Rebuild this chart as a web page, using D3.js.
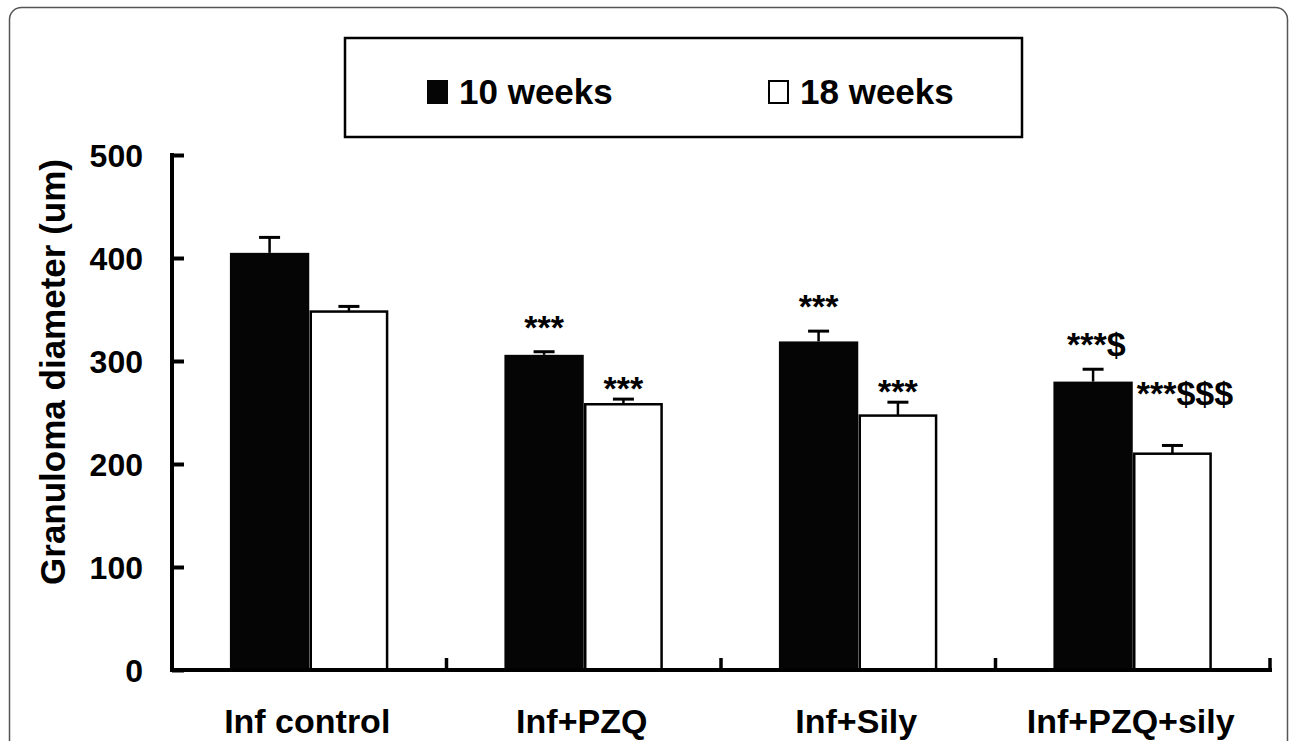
<!DOCTYPE html>
<html><head><meta charset="utf-8">
<script src="https://cdn.jsdelivr.net/npm/d3@7"></script>
<style>html,body{margin:0;padding:0;background:#fff;}svg{display:block;font-family:"Liberation Sans",Arial,sans-serif;font-weight:bold;}</style>
</head><body>
<svg id="c" width="1290" height="741"></svg>
<script>
const categories = ["Inf control", "Inf+PZQ", "Inf+Sily", "Inf+PZQ+sily"];
const seriesNames = ["10 weeks", "18 weeks"];
const weeks10 = [405, 306, 319, 280];
const weeks10Err = [15, 3, 10, 12];
const weeks18 = [348, 258, 247, 210];
const weeks18Err = [5, 5, 13, 8];
const annot10 = ["", "***", "***", "***$"];
const annot18 = ["", "***", "***", "***$$$"];
const yTicks = [0, 100, 200, 300, 400, 500];

const svg = d3.select("#c");
// outer frame
svg.append("rect").attr("x", 9.5).attr("y", 7.5).attr("width", 1278).attr("height", 760)
  .attr("rx", 12).attr("fill", "none").attr("stroke", "#555").attr("stroke-width", 1.5);

const x0 = 172, x1 = 1270, yTop = 155, yBot = 670;
const x = d3.scaleBand().domain(categories).range([x0, x1]).paddingInner(0).paddingOuter(0);
const y = d3.scaleLinear().domain([0, 500]).range([yBot, yTop]);
const sub = d3.scaleBand().domain(seriesNames).range([0, x.bandwidth()]).paddingOuter(0.73).paddingInner(0);

const series = [
  {name: seriesNames[0], vals: weeks10, errs: weeks10Err, ann: annot10, fill: "#050505"},
  {name: seriesNames[1], vals: weeks18, errs: weeks18Err, ann: annot18, fill: "#fff"}
];

// bars
series.forEach((s, si) => {
  const g = svg.append("g");
  categories.forEach((c, i) => {
    const bx = x(c) + sub(s.name) + (si === 0 ? 0 : 1.5);
    const bw = sub.bandwidth() - (si === 0 ? 0 : 3);
    const cx = x(c) + sub(s.name) + sub.bandwidth() / 2;
    g.append("line").attr("x1", cx).attr("x2", cx).attr("y1", y(s.vals[i])).attr("y2", y(s.vals[i] + s.errs[i]))
      .attr("stroke", "#000").attr("stroke-width", 2.5);
    g.append("line").attr("x1", cx - 10.5).attr("x2", cx + 10.5).attr("y1", y(s.vals[i] + s.errs[i])).attr("y2", y(s.vals[i] + s.errs[i]))
      .attr("stroke", "#000").attr("stroke-width", 3);
    g.append("rect").attr("x", bx).attr("y", y(s.vals[i])).attr("width", bw).attr("height", yBot - y(s.vals[i]))
      .attr("fill", s.fill).attr("stroke", si === 0 ? "none" : "#000").attr("stroke-width", 2.5);
  });
});

// annotations
const annSize = 34;
categories.forEach((c, i) => {
  const cx0 = x(c) + sub(seriesNames[0]) + sub.bandwidth() / 2;
  const cx1 = x(c) + sub(seriesNames[1]) + sub.bandwidth() / 2;
  if (annot10[i]) {
    const top = y(weeks10[i] + weeks10Err[i]);
    const t = svg.append("text").attr("font-size", annSize).attr("y", top - 13).text(annot10[i]);
    if (annot10[i].includes("$")) t.attr("x", cx0 - 26).attr("text-anchor", "start");
    else t.attr("x", cx0).attr("text-anchor", "middle");
  }
  if (annot18[i]) {
    const top = y(weeks18[i] + weeks18Err[i]);
    if (annot18[i].includes("$")) {
      svg.append("text").attr("font-size", annSize).attr("x", x(c) + sub(seriesNames[1]) + 4).attr("y", y(weeks10[i]) + 23)
        .attr("text-anchor", "start").text(annot18[i]);
    } else {
      svg.append("text").attr("font-size", annSize).attr("x", cx1).attr("y", top + 1).attr("text-anchor", "middle").text(annot18[i]);
    }
  }
});

// y axis
const yAxis = d3.axisRight(y).tickValues(yTicks).tickSize(12).tickFormat("");
const ya = svg.append("g").attr("transform", `translate(${x0},0)`).call(yAxis);
ya.select(".domain").remove();
ya.selectAll(".tick line").attr("stroke", "#000").attr("stroke-width", 4);
svg.append("line").attr("x1", x0).attr("x2", x0).attr("y1", yTop - 2).attr("y2", yBot + 2).attr("stroke", "#000").attr("stroke-width", 4);
svg.append("g").selectAll("text").data(yTicks).join("text")
  .attr("x", 143).attr("y", d => y(d) + 11.5).attr("text-anchor", "end").attr("font-size", 32).text(d => d);

// x axis
svg.append("line").attr("x1", x0 - 2).attr("x2", x1 + 2).attr("y1", yBot).attr("y2", yBot).attr("stroke", "#000").attr("stroke-width", 4);
const bounds = categories.map(c => x(c) + x.bandwidth());
svg.append("g").selectAll("line").data(bounds).join("line")
  .attr("x1", d => d).attr("x2", d => d).attr("y1", yBot).attr("y2", yBot - 12).attr("stroke", "#000").attr("stroke-width", 3.5);
svg.append("g").selectAll("text").data(categories).join("text")
  .attr("x", d => x(d) + x.bandwidth() / 2 - 2).attr("y", 733).attr("text-anchor", "middle").attr("font-size", 34).text(d => d);

// y title
svg.append("text").attr("transform", "translate(65,372) rotate(-90)").attr("text-anchor", "middle")
  .attr("font-size", 35).text("Granuloma diameter (um)");

// legend
svg.append("rect").attr("x", 345).attr("y", 38).attr("width", 677).attr("height", 99)
  .attr("fill", "#fff").attr("stroke", "#000").attr("stroke-width", 2.5);
const legX = [427, 768];
series.forEach((s, si) => {
  svg.append("rect").attr("x", legX[si] + (si ? 1 : 0)).attr("y", 80 + (si ? 1 : 0)).attr("width", si ? 19 : 21).attr("height", si ? 22 : 24)
    .attr("fill", s.fill).attr("stroke", si ? "#000" : "none").attr("stroke-width", 2);
  svg.append("text").attr("x", legX[si] + 32).attr("y", 104).attr("font-size", 35).text(s.name);
});
</script>
</body></html>
